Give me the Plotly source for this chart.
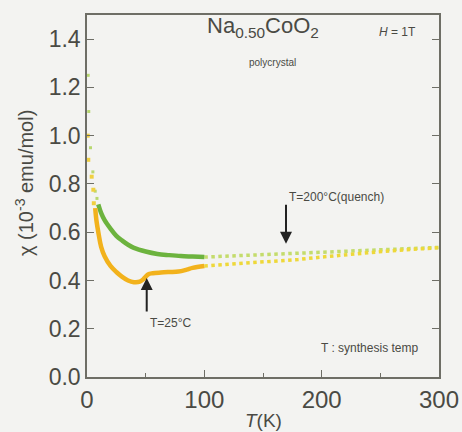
import plotly.graph_objects as go

# Low-temperature (solid) segments
t_green_low = [9.6, 12, 15, 20, 25, 30, 35, 40, 50, 60, 70, 80, 90, 100]
chi_green_low = [0.715, 0.68, 0.65, 0.615, 0.585, 0.565, 0.548, 0.535, 0.52, 0.51, 0.505, 0.501, 0.499, 0.497]

t_yellow_low = [7, 8, 10, 12, 15, 20, 25, 30, 35, 40, 45, 48, 52, 56, 63, 70, 78, 85, 90, 100]
chi_yellow_low = [0.70, 0.65, 0.59, 0.54, 0.50, 0.46, 0.435, 0.415, 0.40, 0.393, 0.395, 0.405, 0.425, 0.43, 0.433, 0.435, 0.437, 0.445, 0.452, 0.46]

# Scattered points at the lowest temperatures
t_green_pts = [1.0, 1.5, 3.0, 5.0, 7.0, 8.5]
chi_green_pts = [1.25, 1.10, 0.95, 0.85, 0.77, 0.74]
t_yellow_pts = [0.6, 1.1, 4.0, 5.4, 5.8]
chi_yellow_pts = [1.00, 0.90, 0.83, 0.776, 0.72]

# High-temperature (dotted) segments
t_high = [100, 120, 140, 160, 180, 200, 220, 240, 260, 280, 300]
chi_green_high = [0.497, 0.501, 0.505, 0.508, 0.511, 0.514, 0.518, 0.522, 0.527, 0.532, 0.537]
chi_yellow_high = [0.460, 0.466, 0.472, 0.479, 0.487, 0.497, 0.507, 0.515, 0.523, 0.530, 0.536]

x_ticks = [0, 100, 200, 300]
y_ticks = [0.0, 0.2, 0.4, 0.6, 0.8, 1.0, 1.2, 1.4]

GREEN = "#6cb33e"
YELLOW = "#f2b21c"
BG = "#f3f3f1"
AX = "#6e6e66"
TXT = "#4a4a44"

fig = go.Figure()
fig.add_trace(go.Scatter(x=t_high, y=chi_green_high, mode="lines",
                         line=dict(color="#c4dc6c", width=3.5, dash="dot")))
fig.add_trace(go.Scatter(x=t_high, y=chi_yellow_high, mode="lines",
                         line=dict(color="#eed83a", width=3.5, dash="dot")))
fig.add_trace(go.Scatter(x=t_green_low, y=chi_green_low, mode="lines",
                         line=dict(color=GREEN, width=4.5, shape="spline")))
fig.add_trace(go.Scatter(x=t_yellow_low, y=chi_yellow_low, mode="lines",
                         line=dict(color=YELLOW, width=4.5, shape="spline")))
fig.add_trace(go.Scatter(x=t_green_pts, y=chi_green_pts, mode="markers",
                         marker=dict(color="#b8d870", size=3, symbol="square")))
fig.add_trace(go.Scatter(x=t_yellow_pts, y=chi_yellow_pts, mode="markers",
                         marker=dict(color="#f0d040", size=4, symbol="square")))

font = "Liberation Sans, Arial, sans-serif"

fig.update_layout(
    width=462, height=432,
    margin=dict(l=87, r=23, t=15, b=55, autoexpand=False),
    paper_bgcolor=BG, plot_bgcolor=BG,
    showlegend=False,
    font=dict(family=font, color=TXT),
    xaxis=dict(range=[0, 300], tickvals=x_ticks, ticktext=[str(v) for v in x_ticks],
               ticks="inside", ticklen=7, tickwidth=1.2, tickcolor=AX,
               minor=dict(tickvals=[50, 150, 250], ticks="inside", ticklen=4, tickcolor=AX),
               showline=True, linecolor=AX, linewidth=1.5, mirror=True,
               showgrid=False, zeroline=False, automargin=False,
               tickfont=dict(size=24, color=TXT, family=font)),
    yaxis=dict(range=[0, 1.5], tickvals=y_ticks, ticktext=[f"{v:.1f}" for v in y_ticks],
               ticks="inside", ticklen=7, tickwidth=1.2, tickcolor=AX,
               showline=True, linecolor=AX, linewidth=1.5, mirror="ticks",
               showgrid=False, zeroline=False, automargin=False,
               tickfont=dict(size=23, color=TXT, family=font)),
)

annotations = [
    dict(x=150, y=1.45, text="Na<sub>0.50</sub>CoO<sub>2</sub>", size=22),
    dict(x=158, y=1.305, text="polycrystal", size=10),
    dict(x=265, y=1.43, text="<i>H</i> = 1T", size=12),
    dict(x=213, y=0.745, text="T=200°C(quench)", size=12),
    dict(x=71, y=0.225, text="T=25°C", size=12),
    dict(x=241, y=0.12, text="T : synthesis temp", size=12),
]
for a in annotations:
    fig.add_annotation(xref="x", yref="y", showarrow=False,
                       font=dict(family=font, color=TXT, size=a["size"]),
                       x=a["x"], y=a["y"], text=a["text"])

# arrows
fig.add_annotation(xref="x", yref="y", axref="x", ayref="y", x=169.6, y=0.552,
                   ax=169.6, ay=0.72, showarrow=True, arrowhead=2, arrowsize=1.2,
                   arrowwidth=2, arrowcolor="#222", text="")
fig.add_annotation(xref="x", yref="y", axref="x", ayref="y", x=50.9, y=0.41,
                   ax=50.9, ay=0.265, showarrow=True, arrowhead=2, arrowsize=1.2,
                   arrowwidth=2, arrowcolor="#222", text="")

# axis titles
fig.add_annotation(xref="paper", yref="paper", x=(263 - 87) / 352, y=-(421 - 377) / 362,
                   text="<i>T</i>(K)", showarrow=False, yanchor="middle",
                   font=dict(family=font, size=19, color=TXT))
fig.add_annotation(xref="paper", yref="paper", x=-(87 - 24) / 352, y=(377 - 183) / 362,
                   text="χ (10<sup>-3</sup> emu/mol)", showarrow=False, textangle=-90,
                   xanchor="center", yanchor="middle",
                   font=dict(family=font, size=20, color=TXT))

fig.write_html("out.html")
